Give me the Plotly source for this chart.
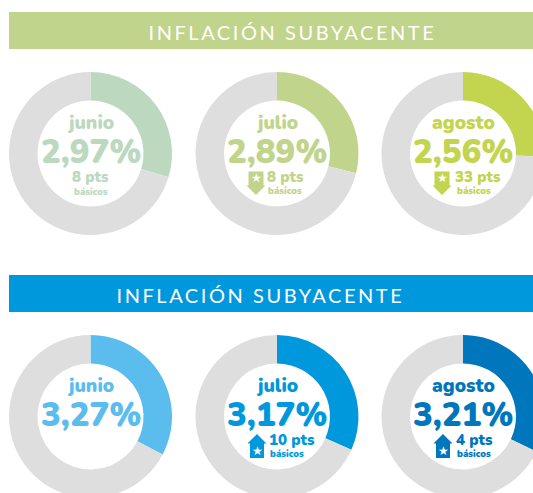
import plotly.graph_objects as go

months = ["junio", "julio", "agosto"]
title = "INFLACIÓN SUBYACENTE"
top_values = [2.97, 2.89, 2.56]
top_rest = [7.03, 7.11, 7.44]
top_labels = ["2,97%", "2,89%", "2,56%"]
top_pts = ["8 pts", "8 pts", "33 pts"]
bottom_values = [3.27, 3.17, 3.21]
bottom_rest = [6.73, 6.83, 6.79]
bottom_labels = ["3,27%", "3,17%", "3,21%"]
bottom_pts = [None, "10 pts", "4 pts"]
unit = "básicos"

top_colors = ["#BCD9BF", "#C1D48C", "#C3D44E"]
bottom_colors = ["#5BBDEE", "#0098DD", "#0077BC"]
GREY = "#DEDEDE"
W, H = 570, 520
CX = [90.5, 277, 463]
R = 81.5
FONT = "Nunito, Lato, 'Open Sans', sans-serif"


def fx(p):
    return p / W


def fy(p):
    return 1 - p / H


def path(points):
    return "M" + "L".join(f"{fx(x):.5f},{fy(y):.5f}" for x, y in points) + "Z"


def down_arrow(cx, top):
    return path([(cx - 7.5, top), (cx + 7.5, top), (cx + 7.5, top + 14), (cx + 9.5, top + 14),
                 (cx, top + 23.5), (cx - 9.5, top + 14), (cx - 7.5, top + 14)])


def up_arrow(cx, top):
    return path([(cx, top), (cx + 9.5, top + 9.5), (cx + 7, top + 9.5), (cx + 7, top + 24),
                 (cx - 7, top + 24), (cx - 7, top + 9.5), (cx - 9.5, top + 9.5)])


fig = go.Figure()
annotations = []
shapes = []


def text(x, y, s, size, color, weight=800, family=FONT):
    annotations.append(dict(x=fx(x), y=fy(y), xref="paper", yref="paper", text=s, showarrow=False,
                            xanchor="center", yanchor="middle",
                            font=dict(size=size, color=color, family=family, weight=weight)))


def row(values, rest, colors, cy):
    for i in range(3):
        fig.add_trace(go.Pie(values=[values[i], rest[i]], labels=[months[i], "resto"], sort=False,
                             direction="clockwise", rotation=0, hole=0.65, textinfo="none",
                             hoverinfo="skip", showlegend=False,
                             marker=dict(colors=[colors[i], GREY], line=dict(width=0)),
                             domain=dict(x=[fx(CX[i] - R), fx(CX[i] + R)],
                                         y=[fy(cy + R), fy(cy - R)])))


# banners
for x0, y0, y1, c in [(9, 12, 49, "#C1D48C"), (9, 275, 312, "#0098DD")]:
    shapes.append(dict(type="rect", xref="paper", yref="paper", x0=fx(x0), x1=fx(W), y0=fy(y0), y1=fy(y1),
                       fillcolor=c, line=dict(width=0), layer="below"))
text(292, 31.5, title, 20, "white", 400, "Lato")
text(260.5, 294.5, title, 20, "white", 400, "Lato")

row(top_values, top_rest, top_colors, 153.5)
row(bottom_values, bottom_rest, bottom_colors, 416.5)

# top row text
for i in range(3):
    c = top_colors[i]
    text(CX[i], 122.5, months[i], 19, c, 900)
    text(CX[i], 152, top_labels[i], 33, c, 900)
text(CX[0], 177, top_pts[0], 15, top_colors[0], 900)
text(CX[0], 191, unit, 9.5, top_colors[0], 900)
text(285, 177, top_pts[1], 15, top_colors[1], 900)
text(285, 190, unit, 9.5, top_colors[1], 900)
text(478, 177, top_pts[2], 15, top_colors[2], 900)
text(474, 190, unit, 9.5, top_colors[2], 900)

# bottom row text
for i in range(3):
    c = bottom_colors[i]
    text(CX[i], 385.5, months[i], 19, c, 900)
    text(CX[i], 415, bottom_labels[i], 33, c, 900)
text(292, 440, bottom_pts[1], 15, bottom_colors[1], 900)
text(287, 453, unit, 9.5, bottom_colors[1], 900)
text(474, 440, bottom_pts[2], 15, bottom_colors[2], 900)
text(474, 453, unit, 9.5, bottom_colors[2], 900)

# arrows
for cx, c in [(256, top_colors[1]), (442, top_colors[2])]:
    shapes.append(dict(type="path", xref="paper", yref="paper", path=down_arrow(cx, 171.5),
                       fillcolor=c, line=dict(width=0), layer="above"))
    text(cx, 177.5, "★", 12, "white", 400, "DejaVu Sans")
for cx, c in [(257, bottom_colors[1]), (443, bottom_colors[2])]:
    shapes.append(dict(type="path", xref="paper", yref="paper", path=up_arrow(cx, 434),
                       fillcolor=c, line=dict(width=0), layer="above"))
    text(cx, 450.5, "★", 12, "white", 400, "DejaVu Sans")

fig.update_layout(width=W, height=H, margin=dict(l=0, r=0, t=0, b=0), autosize=False,
                  paper_bgcolor="white", plot_bgcolor="white",
                  annotations=annotations, shapes=shapes)

post = """
document.documentElement.style.overflow='hidden';
document.body.style.overflow='hidden';
document.body.style.margin='0';
document.querySelectorAll('.annotation-text').forEach(function(t){
  if(t.textContent.indexOf('INFLACI')===0){t.style.letterSpacing='2.55px';}
});
"""
fig.write_html("out.html", post_script=post, config=dict(displayModeBar=False))
